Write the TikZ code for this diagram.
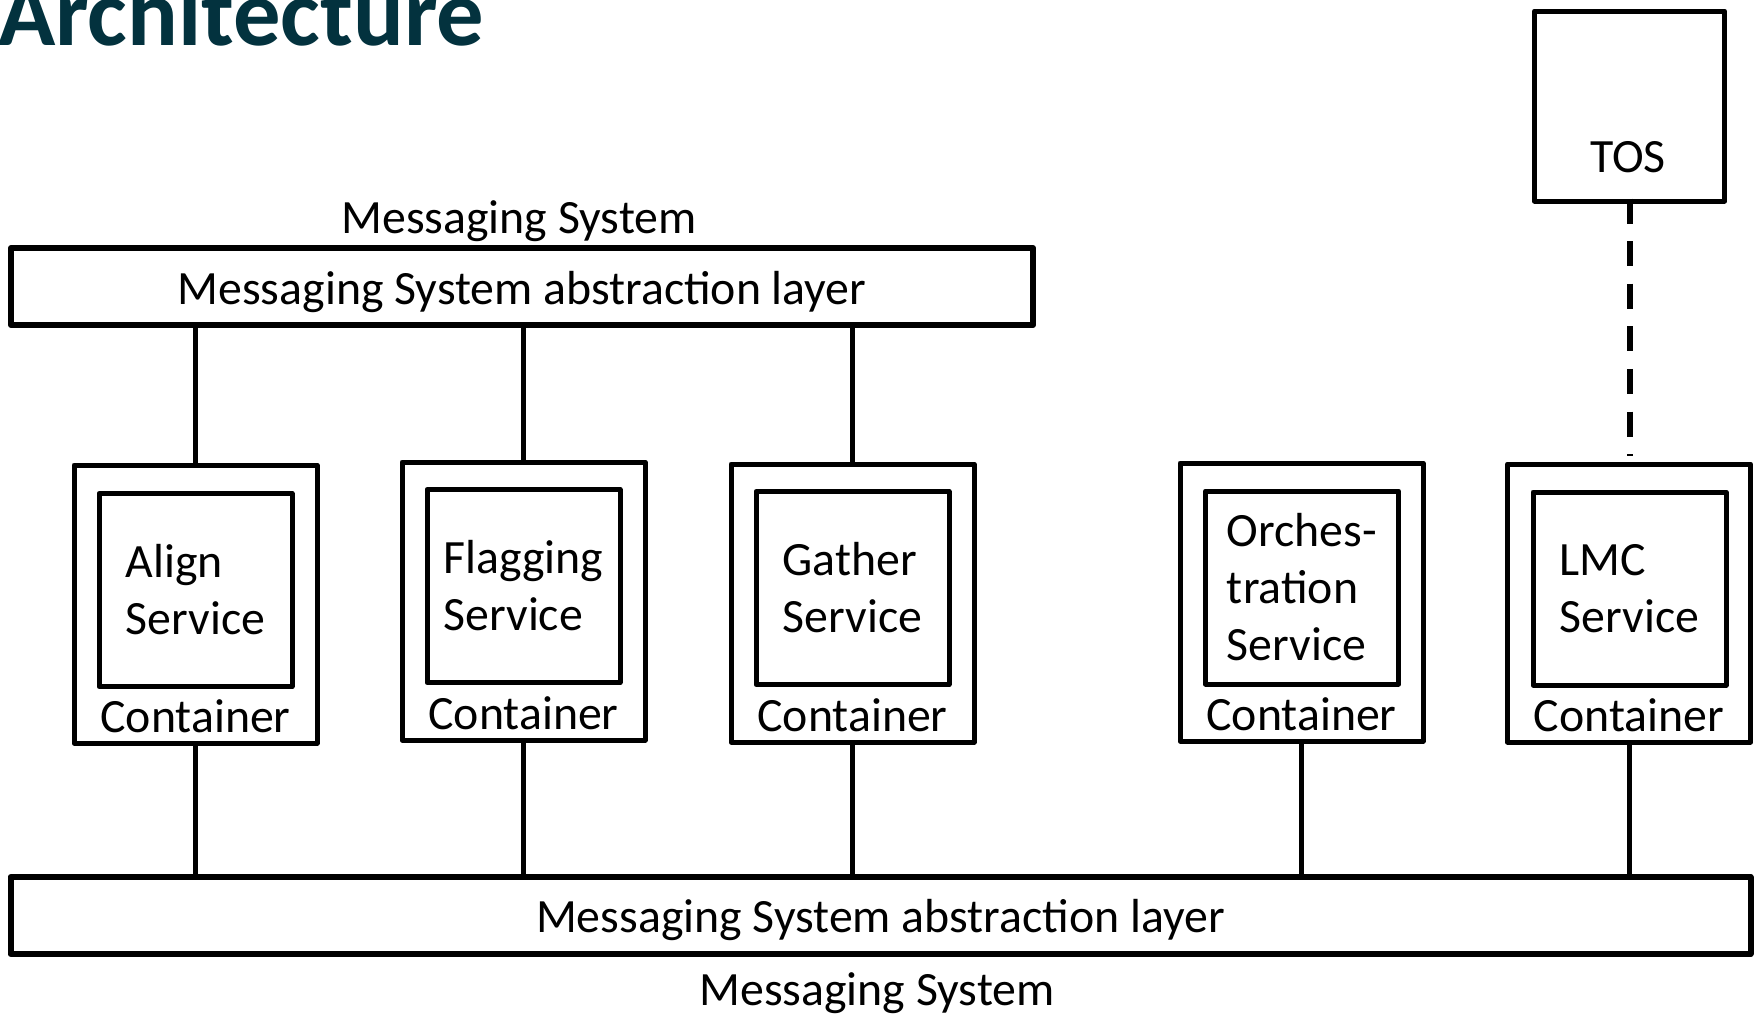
\documentclass[tikz,border=0pt]{standalone}
\usepackage{fontspec}
\setmainfont{Carlito}
\usetikzlibrary{calc}
\definecolor{titleblue}{RGB}{3,50,62}
\tikzset{
  bar/.style={draw=black, line width=3pt, line join=round, inner sep=0pt, minimum width=#1, minimum height=38.5pt},
  contbox/.style={draw=black, line width=2.5pt, line join=round, inner sep=0pt, minimum width=121.5pt, minimum height=139pt},
  svcbox/.style={draw=black, line width=2.5pt, line join=round, inner sep=0pt, minimum width=96.5pt, minimum height=96.5pt},
  svctext/.style={align=left, inner sep=0pt},
  lbl/.style={inner sep=0pt},
  conn/.style={draw=black, line width=2.5pt},
  dashconn/.style={draw=black, line width=3pt, dash pattern=on 12.5pt off 8.8pt},
}
\begin{document}
\begin{tikzpicture}[x=0.5pt,y=-0.5pt, font=\fontsize{23.9}{28.5}\selectfont]
\useasboundingbox (0,0) rectangle (1757,1014);
% title
\node[lbl, anchor=base west, text=titleblue, font=\fontsize{47.3}{50}\selectfont\bfseries] (title) at (-2,45) {Architecture};
% TOS
\node[svcbox, minimum width=95pt, minimum height=95pt] (tos) at (1629.5,106) {};
\node[lbl, anchor=base] (tostext) at (1628,172) {TOS};
% top bar
\node[bar=511pt] (top) at (522,286.5) {};
\node[lbl] (toptext) at ($(top.center)+(0,6)$) {Messaging System abstraction layer};
\node[lbl, anchor=base] (toplbl) at (519,233) {Messaging System};
% bottom bar
\node[bar=870pt] (bot) at (880.5,915.5) {};
\node[lbl] (bottext) at ($(bot.center)+(0,4)$) {Messaging System abstraction layer};
\node[lbl, anchor=base] (botlbl) at (877,1005) {Messaging System};
% containers
\node[contbox] (c1) at (195.5,604) {};
\node[contbox] (c2) at (523.5,601) {};
\node[contbox] (c3) at (852.5,603) {};
\node[contbox] (c4) at (1301.5,602) {};
\node[contbox] (c5) at (1629,603) {};
\node[svcbox] (s1) at (195.5,590) {};
\node[svcbox] (s2) at (523.5,586) {};
\node[svcbox] (s3) at (852.5,588) {};
\node[svcbox] (s4) at (1302,587.5) {};
\node[svcbox] (s5) at (1629.5,588.5) {};
\node[svctext] (t1) at (s1.center) {Align\\Service};
\node[svctext] (t2) at (s2.center) {Flagging\\Service};
\node[svctext] (t3) at (s3.center) {Gather\\Service};
\node[svctext] (t4) at (s4.center) {Orches-\\tration\\Service};
\node[svctext] (t5) at (s5.center) {LMC\\Service};
\foreach \i in {1,...,5}{
  \node[lbl, anchor=base] (cl\i) at ($(c\i.south)+(0,-13)$) {Container};
}
% connectors
\foreach \i in {1,2,3}{
  \draw[conn] (c\i.north) -- (c\i.north |- top.south);
}
\foreach \i in {1,...,5}{
  \draw[conn] (c\i.south) -- (c\i.south |- bot.north);
}
\coordinate (dashstart) at ($(tos.south)+(0,-5)$);
\coordinate (dashend) at ($(c5.north)+(0,-6)$);
\draw[dashconn] (dashstart) -- (dashstart |- dashend);
\end{tikzpicture}
\end{document}
